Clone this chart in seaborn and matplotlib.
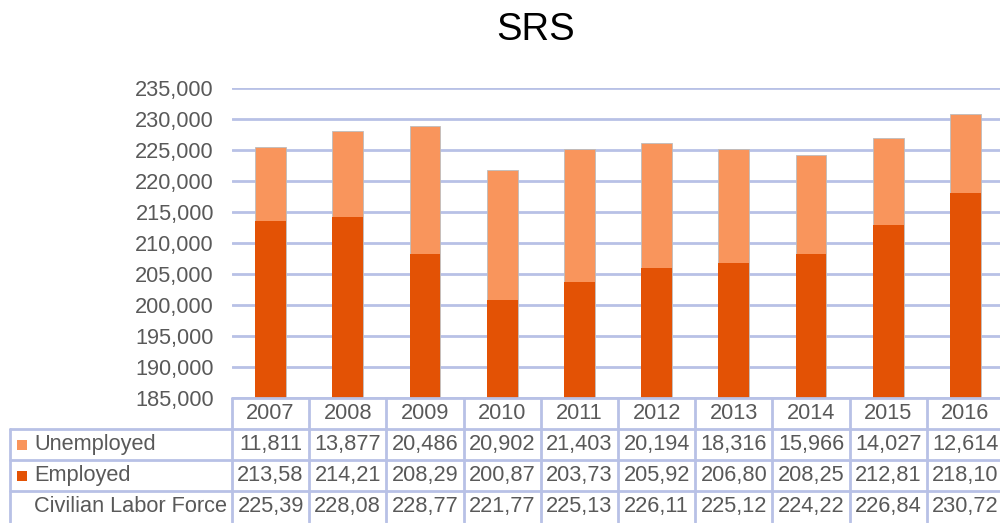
import matplotlib
matplotlib.use("Agg")
from matplotlib import pyplot as plt
import seaborn as sns
import pandas as pd

# Data (employed values are truncated in the table,
# last digit estimated so the labor force row matches).
years = ["2007", "2008", "2009", "2010", "2011",
         "2012", "2013", "2014", "2015", "2016"]
unemployed = [11811, 13877, 20486, 20902, 21403,
              20194, 18316, 15966, 14027, 12614]
employed = [213584, 214211, 208292, 200874, 203733,
            205922, 206806, 208256, 212815, 218108]
row_labels = ["Unemployed", "Employed", "Civilian Labor Force"]

LIGHT = "#F9955C"
DARK = "#E35205"
GRID = "#B8C1E6"
TEXT = "#595959"

df = pd.DataFrame({"Year": years, "Unemployed": unemployed, "Employed": employed})
df["Civilian Labor Force"] = df["Employed"] + df["Unemployed"]

sns.set_style("white")
plt.rcParams["font.family"] = ["Liberation Sans", "DejaVu Sans"]

fig = plt.figure(figsize=(10, 5.23), dpi=100)
ax = fig.add_axes([0.232, 0.239, 0.772, 0.593])

# Stacked bars: total first (light), employed on top of it (dark).
sns.barplot(data=df, x="Year", y="Civilian Labor Force", color=LIGHT,
            saturation=1, width=0.4, edgecolor="#BDBDBD", linewidth=0.6, ax=ax)
sns.barplot(data=df, x="Year", y="Employed", color=DARK,
            saturation=1, width=0.4, linewidth=0, ax=ax)

ax.set_xlim(-0.5, len(years) - 0.5)
ax.set_ylim(185000, 235000)
ax.set_yticks(range(185000, 235001, 5000))
ax.set_yticklabels([f"{v:,}" for v in range(185000, 235001, 5000)])
ax.yaxis.grid(True, color=GRID, linewidth=2)
ax.set_axisbelow(True)
ax.tick_params(axis="y", length=0, pad=13, labelsize=15.7, labelcolor=TEXT)
ax.tick_params(axis="x", length=0, labelbottom=False)
ax.set_xlabel("")
ax.set_ylabel("")
for s in ax.spines.values():
    s.set_visible(False)

fig.suptitle("SRS", x=0.536, y=0.978, fontsize=27.5, color="black")

# Data table under the plot (x in data units, y in axes fraction).
tr = ax.get_xaxis_transform()
row_h = 0.1
n = len(years)
left_edge = -0.5 - 222 / 77.2  # label column left border

line_kw = dict(color=GRID, linewidth=2, clip_on=False, transform=tr)
ax.plot([-0.5, n - 0.5], [0, 0], **line_kw)
for k in range(1, 4):
    ax.plot([left_edge, n - 0.5], [-k * row_h, -k * row_h], **line_kw)
for i in range(n + 1):
    ax.plot([i - 0.5, i - 0.5], [0, -4 * row_h], **line_kw)
ax.plot([left_edge, left_edge], [-row_h, -4 * row_h], **line_kw)

cell_kw = dict(transform=tr, ha="center", va="center", fontsize=15.7,
               color=TEXT, clip_on=False)
for i, yr in enumerate(years):
    ax.text(i, -0.5 * row_h, yr, **cell_kw)

series = [df["Unemployed"], df["Employed"], df["Civilian Labor Force"]]
swatches = [LIGHT, DARK, None]
for r, (label, vals, sw) in enumerate(zip(row_labels, series, swatches)):
    yc = -(r + 1.5) * row_h
    for i, v in enumerate(vals):
        # the narrow cells only show the first six characters
        ax.text(i, yc, f"{v:,}"[:6], **cell_kw)
    ax.text(left_edge + 24 / 77.2, yc, label, transform=tr, ha="left",
            va="center", fontsize=15.7, color=TEXT, clip_on=False)
    if sw is not None:
        ax.scatter([left_edge + 11.5 / 77.2], [yc], marker="s", s=62,
                   color=sw, transform=tr, clip_on=False, linewidths=0)

plt.savefig("out.png", dpi=100)
